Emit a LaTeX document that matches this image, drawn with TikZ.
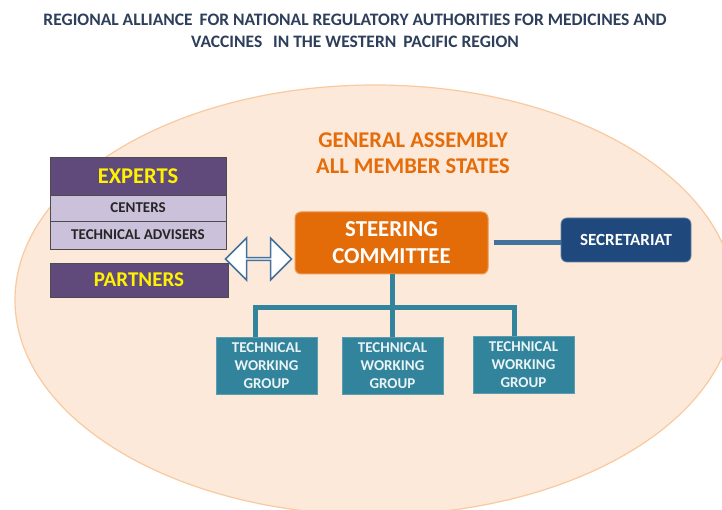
\documentclass[tikz,border=0pt]{standalone}
\usepackage{fontspec}
\setmainfont{Carlito}
\usetikzlibrary{shapes.arrows}
\definecolor{peach}{HTML}{FDE9D9}
\definecolor{peachline}{HTML}{F9C9A0}
\definecolor{titlecol}{HTML}{2E3F5C}
\definecolor{orangetxt}{HTML}{E46C0A}
\definecolor{orangebox}{HTML}{E36C09}
\definecolor{purplebox}{HTML}{604A7B}
\definecolor{lavender}{HTML}{CCC1DA}
\definecolor{navy}{HTML}{1F497D}
\definecolor{steel}{HTML}{41719C}
\definecolor{teal}{HTML}{31849B}
\tikzset{
  purp/.style={draw=black!70, line width=0.8pt, fill=purplebox, text=yellow, font=\bfseries\fontsize{22.5}{24}\selectfont, inner sep=0pt},
  lav/.style={draw=black!70, line width=0.8pt, fill=lavender, text=black!85, font=\bfseries\fontsize{15}{16}\selectfont, inner sep=0pt},
  twg/.style={fill=teal, draw=teal!80!white, text=white!90!teal, font=\bfseries\fontsize{15}{18}\selectfont, align=center, inner sep=0pt, minimum width=101pt, minimum height=57pt},
  conn/.style={teal, line width=5pt},
}
\begin{document}
\begin{tikzpicture}[x=1pt,y=-1pt]
\useasboundingbox (0,0) rectangle (722,510);
\fill[white] (0,0) rectangle (722,510);
\begin{scope}
\clip (0,0) rectangle (722,510);
\draw[fill=peach, draw=peachline, line width=1.2pt] (375,300) ellipse [x radius=360pt, y radius=215pt];
\end{scope}
\node[text=titlecol, font=\bfseries\fontsize{17.5}{22}\selectfont, align=center] (title) at (355,31)
  {REGIONAL ALLIANCE\, FOR NATIONAL REGULATORY AUTHORITIES FOR MEDICINES AND\\VACCINES \, IN THE WESTERN\, PACIFIC REGION};
\node[text=orangetxt, font=\bfseries\fontsize{22.5}{26}\selectfont, align=center] (ga) at (413,153) {GENERAL ASSEMBLY\\ALL MEMBER STATES};
% experts
\node[purp, minimum width=176pt, minimum height=38pt] (exp) at (138,176) {EXPERTS};
\node[lav, minimum width=176pt, minimum height=26pt] (cen) at (138,208) {CENTERS};
\node[lav, minimum width=176pt, minimum height=28pt] (tadv) at (138,235) {TECHNICAL ADVISERS};
\node[purp, font=\bfseries\fontsize{21}{24}\selectfont, minimum width=178pt, minimum height=34pt] (part) at (139,280) {PARTNERS};
% double arrow
\node[double arrow, draw=steel, fill=white, line width=1.5pt, minimum width=42pt, double arrow head extend=10pt, minimum height=66pt, inner sep=0pt] (arr) at (258.5,259) {};
% steering
\node[fill=orangebox, draw=orangebox!70!white, line width=1pt, rounded corners=6pt, minimum width=193pt, minimum height=62pt, text=white, font=\bfseries\fontsize{22.8}{27}\selectfont, align=center, inner sep=0pt] (sc) at (391.5,243) {STEERING\\COMMITTEE};
\node[fill=navy, draw=navy!70!white, line width=0.8pt, rounded corners=6pt, minimum width=130pt, minimum height=44pt, text=white, font=\bfseries\fontsize{17}{18}\selectfont, inner sep=0pt] (sec) at (626,240) {SECRETARIAT};
\draw[steel, line width=5pt] (sc.east) ++(5,0) coordinate (a1) -- (a1 -| sec.west) ++(-5,0);
% TWGs
\node[twg] (t1) at (266.5,366) {TECHNICAL\\WORKING\\GROUP};
\node[twg] (t2) at (392.5,365.5) {TECHNICAL\\WORKING\\GROUP};
\node[twg] (t3) at (523.5,364.5) {TECHNICAL\\WORKING\\GROUP};
\coordinate (hb) at (392,307);
\draw[conn] (sc.south -| hb) -- (hb);
\draw[conn] (t1.north -| 255,0) |- (hb) -| (t3.north -| 514,0);
\draw[conn] (hb) -- (t2.north -| hb);
\end{tikzpicture}
\end{document}
